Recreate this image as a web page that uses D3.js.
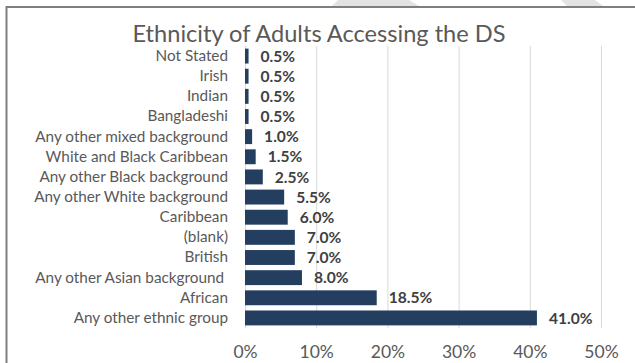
<!DOCTYPE html>
<html>
<head>
<meta charset="utf-8">
<script src="https://cdn.jsdelivr.net/npm/d3@7"></script>
<style>
  html, body { margin: 0; padding: 0; background: #fff; }
  svg { display: block; }
  text { font-family: Lato, "Open Sans", sans-serif; }
</style>
</head>
<body>
<svg id="chart" width="635" height="363"></svg>
<script>
// Ethnicity breakdown, top to bottom as listed
const categories = [
  "Not Stated", "Irish", "Indian", "Bangladeshi",
  "Any other mixed background", "White and Black Caribbean",
  "Any other Black background", "Any other White background",
  "Caribbean", "(blank)", "British", "Any other Asian background ",
  "African", "Any other ethnic group"
];
const shares = [0.5, 0.5, 0.5, 0.5, 1.0, 1.5, 2.5, 5.5, 6.0, 7.0, 7.0, 8.0, 18.5, 41.0];
const tickValues = [0, 10, 20, 30, 40, 50];
const titleText = "Ethnicity of Adults Accessing the DS";

const svg = d3.select("#chart");
const W = 635, H = 363;
const margin = { left: 245, right: 34, top: 46, bottom: 35 };

// faint background shapes along the top edge
svg.append("path")
  .attr("d", "M338,0 L409,0 L419,6 L332,6 Z")
  .attr("fill", "#e3e3e3");
svg.append("path")
  .attr("d", "M561,0 L595,0 L603,6 L567,6 Z")
  .attr("fill", "#e3e3e3");

// frame
svg.append("path")
  .attr("d", `M6.5,${H} L6.5,7 L${W},7`)
  .attr("fill", "none")
  .attr("stroke", "#7f7f7f")
  .attr("stroke-width", 2);

const x = d3.scaleLinear().domain([0, 50]).range([margin.left, W - margin.right]);
const y = d3.scaleBand().domain(categories).range([margin.top, H - margin.bottom]).paddingInner(0.26).paddingOuter(0.13);

// vertical gridlines
svg.append("g")
  .selectAll("line")
  .data(tickValues)
  .join("line")
  .attr("x1", d => x(d) + 0.5)
  .attr("x2", d => x(d) + 0.5)
  .attr("y1", margin.top)
  .attr("y2", H - margin.bottom)
  .attr("stroke", "#d9d9d9")
  .attr("stroke-width", 1);

// x axis tick labels
const xAxis = d3.axisBottom(x)
  .tickValues(tickValues)
  .tickFormat(d => d + "%")
  .tickSize(0)
  .tickPadding(0);
const gx = svg.append("g")
  .attr("transform", `translate(0,${H - 17.5})`)
  .call(xAxis);
gx.select(".domain").remove();
gx.selectAll("text")
  .attr("font-family", "Lato, sans-serif")
  .attr("font-size", 17.5)
  .attr("fill", "#595959");

// category labels
const yAxis = d3.axisLeft(y).tickSize(0).tickPadding(0);
const gy = svg.append("g")
  .attr("transform", `translate(${margin.left - 17},0)`)
  .call(yAxis);
gy.select(".domain").remove();
gy.selectAll("text")
  .attr("font-family", "Lato, sans-serif")
  .attr("font-size", 15.3)
  .attr("fill", "#595959")
  .attr("xml:space", "preserve");

// bars
svg.append("g")
  .selectAll("rect")
  .data(categories.map((c, i) => ({ c, v: shares[i] })))
  .join("rect")
  .attr("x", x(0))
  .attr("y", d => y(d.c))
  .attr("width", d => x(d.v) - x(0))
  .attr("height", y.bandwidth())
  .attr("fill", "#243e60");

// value labels
svg.append("g")
  .selectAll("text")
  .data(categories.map((c, i) => ({ c, v: shares[i] })))
  .join("text")
  .attr("x", d => x(d.v) + 12)
  .attr("y", d => y(d.c) + y.bandwidth() / 2)
  .attr("dy", "0.36em")
  .attr("font-size", 15.6)
  .attr("font-weight", "bold")
  .attr("fill", "#404040")
  .text(d => d.v.toFixed(1) + "%");

// title
svg.append("text")
  .attr("x", 319)
  .attr("y", 42)
  .attr("text-anchor", "middle")
  .attr("font-size", 23.6)
  .attr("fill", "#595959")
  .text(titleText);
</script>
</body>
</html>
